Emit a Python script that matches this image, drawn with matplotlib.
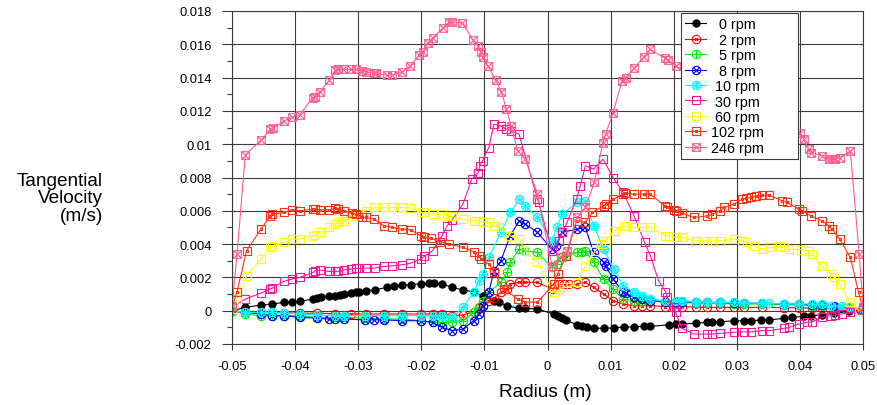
import matplotlib
matplotlib.use("Agg")
import matplotlib.pyplot as plt
from matplotlib.path import Path
from matplotlib.ticker import MultipleLocator, NullLocator, FuncFormatter

plt.rcParams['font.family'] = ['Liberation Sans', 'DejaVu Sans']

# Rotation speeds (rpm) and their tangential velocity profiles: (radius m, velocity m/s)
speeds = [0, 2, 5, 8, 10, 30, 60, 102, 246]

profile_0 = [
    (-0.0500, 0.0), (-0.0479, 0.0002), (-0.0454, 0.00034), (-0.0436, 0.0004), (-0.0418, 0.0005),
    (-0.0405, 0.0005), (-0.0393, 0.00056), (-0.0371, 0.0007), (-0.0366, 0.00075), (-0.0359, 0.0008),
    (-0.0347, 0.00086), (-0.0336, 0.0009), (-0.0329, 0.00095), (-0.0323, 0.001), (-0.0311, 0.00106),
    (-0.0304, 0.0011), (-0.0299, 0.00114), (-0.0288, 0.0012), (-0.0274, 0.00126), (-0.0254, 0.0014),
    (-0.0244, 0.00146), (-0.0230, 0.00154), (-0.0217, 0.00156), (-0.0201, 0.00162), (-0.0188, 0.00164),
    (-0.0180, 0.00164), (-0.0167, 0.0016), (-0.0151, 0.0014), (-0.0134, 0.00124), (-0.0117, 0.00114),
    (-0.0103, 0.0009), (-0.0085, 0.0006), (-0.0077, 0.0005), (-0.0064, 0.0003), (-0.0045, 0.00014),
    (-0.0035, 0.00014), (-0.0016, 0.0001), (0.0010, -0.0002), (0.0016, -0.0003), (0.0023, -0.00044),
    (0.0029, -0.00055), (0.0047, -0.00086), (0.0055, -0.00094), (0.0063, -0.001), (0.0073, -0.00104),
    (0.0089, -0.00106), (0.0105, -0.00103), (0.0121, -0.00098), (0.0137, -0.00097), (0.0153, -0.00094),
    (0.0163, -0.00094), (0.0192, -0.00085), (0.0203, -0.0008), (0.0213, -0.0008), (0.0235, -0.00075),
    (0.0253, -0.0007), (0.0261, -0.0007), (0.0274, -0.00067), (0.0295, -0.0006), (0.0311, -0.0006),
    (0.0322, -0.0006), (0.0338, -0.00056), (0.0351, -0.00055), (0.0375, -0.00046), (0.0388, -0.0004),
    (0.0406, -0.00034), (0.0417, -0.0003), (0.0435, -0.00025), (0.0454, -0.00016), (0.0478, -0.00004),
    (0.0496, 0.00004),
]

profile_2 = [
    (-0.0500, 0.0), (-0.0479, -0.0001), (-0.0454, -0.0001), (-0.0436, -0.0001), (-0.0418, -0.00012),
    (-0.0393, -0.00015), (-0.0365, -0.00015), (-0.0336, -0.00018), (-0.0311, -0.0002), (-0.0288, -0.0002),
    (-0.0259, -0.0002), (-0.0230, -0.0002), (-0.0201, -0.0002), (-0.0182, -0.0002), (-0.0167, -0.0002),
    (-0.0151, -0.0003), (-0.0134, -0.00026), (-0.0117, -0.00006), (-0.0109, 0.00014), (-0.0103, 0.0003),
    (-0.0093, 0.0006), (-0.0085, 0.00074), (-0.0074, 0.0011), (-0.0064, 0.0013), (-0.0059, 0.0016),
    (-0.0045, 0.0017), (-0.0035, 0.0017), (-0.0016, 0.0017), (0.0007, 0.0013), (0.0018, 0.0016),
    (0.0026, 0.0016), (0.0034, 0.0016), (0.0047, 0.0016), (0.0060, 0.0017), (0.0073, 0.0014),
    (0.0089, 0.001), (0.0104, 0.0006), (0.0120, 0.0004), (0.0137, 0.0003), (0.0150, 0.0003),
    (0.0163, 0.0003), (0.0187, 0.00025), (0.0203, 0.00025), (0.0213, 0.00025), (0.0235, 0.00022),
    (0.0253, 0.0002), (0.0274, 0.0002), (0.0295, 0.0002), (0.0311, 0.0002), (0.0340, 0.0002),
    (0.0375, 0.00018), (0.0398, 0.00018), (0.0419, 0.00015), (0.0435, 0.00015), (0.0454, 0.00012),
    (0.0480, 0.0001), (0.0499, 0.0),
]

profile_5 = [
    (-0.0500, 0.0), (-0.0479, -0.0002), (-0.0454, -0.0003), (-0.0436, -0.0003), (-0.0418, -0.0003),
    (-0.0393, -0.0003), (-0.0365, -0.0004), (-0.0336, -0.0004), (-0.0323, -0.0004), (-0.0290, -0.00045),
    (-0.0259, -0.0005), (-0.0230, -0.0005), (-0.0201, -0.0006), (-0.0182, -0.0007), (-0.0167, -0.0007),
    (-0.0151, -0.00066), (-0.0134, -0.0006), (-0.0117, -0.0001), (-0.0109, 0.0002), (-0.0103, 0.0006),
    (-0.0093, 0.0011), (-0.0074, 0.0017), (-0.0064, 0.0023), (-0.0059, 0.0029), (-0.0045, 0.0037),
    (-0.0035, 0.0036), (-0.0016, 0.0035), (0.0007, 0.0026), (0.0015, 0.0028), (0.0023, 0.0032),
    (0.0030, 0.0033), (0.0047, 0.0035), (0.0055, 0.0035), (0.0060, 0.0036), (0.0073, 0.0029),
    (0.0089, 0.0019), (0.0104, 0.0013), (0.0120, 0.0007), (0.0137, 0.0006), (0.0150, 0.0006),
    (0.0163, 0.0006), (0.0187, 0.0005), (0.0203, 0.0005), (0.0213, 0.0005), (0.0235, 0.00045),
    (0.0253, 0.00045), (0.0274, 0.00045), (0.0295, 0.0004), (0.0311, 0.0004), (0.0340, 0.0004),
    (0.0375, 0.00035), (0.0398, 0.00035), (0.0419, 0.0003), (0.0435, 0.0003), (0.0454, 0.00025),
    (0.0480, 0.00015), (0.0499, 0.0),
]

profile_8 = [
    (-0.0500, 0.0), (-0.0479, -0.0001), (-0.0454, -0.0002), (-0.0436, -0.0003), (-0.0418, -0.0003),
    (-0.0393, -0.0004), (-0.0365, -0.00045), (-0.0347, -0.0005), (-0.0336, -0.0005), (-0.0323, -0.0005),
    (-0.0290, -0.00055), (-0.0275, -0.00055), (-0.0259, -0.00055), (-0.0230, -0.0006), (-0.0201, -0.0006),
    (-0.0182, -0.0007), (-0.0167, -0.001), (-0.0151, -0.0012), (-0.0134, -0.0011), (-0.0117, -0.0006),
    (-0.0109, -0.0002), (-0.0103, 0.0003), (-0.0093, 0.0011), (-0.0085, 0.0024), (-0.0074, 0.003),
    (-0.0059, 0.0045), (-0.0045, 0.0054), (-0.0035, 0.0052), (-0.0016, 0.0047), (0.0007, 0.0037),
    (0.0013, 0.0039), (0.0023, 0.0047), (0.0047, 0.0049), (0.0060, 0.005), (0.0073, 0.0035),
    (0.0089, 0.0029), (0.0092, 0.0027), (0.0104, 0.0019), (0.0120, 0.0011), (0.0124, 0.00106),
    (0.0137, 0.0008), (0.0150, 0.0007), (0.0163, 0.0006), (0.0187, 0.00055), (0.0203, 0.00055),
    (0.0213, 0.00055), (0.0235, 0.0005), (0.0253, 0.0005), (0.0274, 0.0005), (0.0295, 0.00045),
    (0.0311, 0.00045), (0.0340, 0.00045), (0.0375, 0.0004), (0.0398, 0.0004), (0.0419, 0.00035),
    (0.0435, 0.00035), (0.0454, 0.0003), (0.0480, 0.0002), (0.0499, 0.0001),
]

profile_10 = [
    (-0.0500, 0.0), (-0.0479, -0.0001), (-0.0454, -0.0001), (-0.0436, -0.0001), (-0.0418, -0.00015),
    (-0.0393, -0.0002), (-0.0365, -0.00025), (-0.0336, -0.0003), (-0.0323, -0.0003), (-0.0290, -0.0003),
    (-0.0259, -0.0003), (-0.0230, -0.0003), (-0.0201, -0.0003), (-0.0182, -0.0003), (-0.0167, -0.0003),
    (-0.0151, -0.0004), (-0.0134, 0.0002), (-0.0117, 0.0011), (-0.0109, 0.0018), (-0.0103, 0.0022),
    (-0.0093, 0.0032), (-0.0074, 0.0047), (-0.0059, 0.0059), (-0.0045, 0.0067), (-0.0035, 0.0063),
    (-0.0016, 0.0056), (0.0007, 0.0042), (0.0015, 0.005), (0.0023, 0.0058), (0.0047, 0.0065),
    (0.0060, 0.0066), (0.0073, 0.0051), (0.0089, 0.0037), (0.0105, 0.0025), (0.0120, 0.0015),
    (0.0137, 0.0011), (0.0150, 0.0009), (0.0163, 0.0007), (0.0187, 0.0006), (0.0203, 0.0006),
    (0.0213, 0.0006), (0.0235, 0.00055), (0.0253, 0.0005), (0.0274, 0.0005), (0.0295, 0.0005),
    (0.0311, 0.00045), (0.0340, 0.00045), (0.0351, 0.00045), (0.0375, 0.0004), (0.0398, 0.0004),
    (0.0419, 0.0004), (0.0435, 0.0004), (0.0449, 0.0003), (0.0467, 0.0003), (0.0480, 0.0002),
    (0.0499, 0.0001),
]

profile_30 = [
    (-0.0500, 0.0002), (-0.0479, 0.0007), (-0.0454, 0.00106), (-0.0439, 0.0013), (-0.0436, 0.00136),
    (-0.0418, 0.00176), (-0.0405, 0.0019), (-0.0393, 0.002), (-0.0371, 0.0023), (-0.0368, 0.0024),
    (-0.0361, 0.00244), (-0.0347, 0.00236), (-0.0336, 0.00236), (-0.0332, 0.00236), (-0.0323, 0.00244),
    (-0.0311, 0.0025), (-0.0304, 0.00254), (-0.0299, 0.00254), (-0.0288, 0.00256), (-0.0274, 0.00256),
    (-0.0259, 0.00266), (-0.0246, 0.0027), (-0.0230, 0.00276), (-0.0218, 0.00284), (-0.0201, 0.0031),
    (-0.0195, 0.00326), (-0.0182, 0.0036), (-0.0167, 0.0045), (-0.0159, 0.0051), (-0.0151, 0.00546),
    (-0.0134, 0.0064), (-0.0120, 0.0079), (-0.0110, 0.0083), (-0.0107, 0.0087), (-0.0103, 0.009),
    (-0.0093, 0.0098), (-0.0085, 0.0112), (-0.0074, 0.0111), (-0.0065, 0.0109), (-0.0058, 0.0108),
    (-0.0045, 0.0106), (-0.0016, 0.0067), (-0.0014, 0.0065), (0.0007, 0.0036), (0.0018, 0.0042),
    (0.0023, 0.0047), (0.0031, 0.0053), (0.0046, 0.0067), (0.0052, 0.0075), (0.0060, 0.0087),
    (0.0073, 0.0085), (0.0088, 0.0091), (0.0104, 0.008), (0.0120, 0.0071), (0.0137, 0.0057),
    (0.0154, 0.0041), (0.0163, 0.0033), (0.0176, 0.0018), (0.0187, 0.00114), (0.0190, 0.0008),
    (0.0200, 0.0002), (0.0203, -0.0001), (0.0213, -0.00106), (0.0232, -0.0014), (0.0253, -0.0014),
    (0.0261, -0.0014), (0.0274, -0.00136), (0.0295, -0.0013), (0.0311, -0.00127), (0.0322, -0.00127),
    (0.0340, -0.0012), (0.0351, -0.0012), (0.0375, -0.00106), (0.0383, -0.001), (0.0398, -0.0008),
    (0.0411, -0.0007), (0.0419, -0.00067), (0.0435, -0.0004), (0.0449, -0.0003), (0.0456, -0.00026),
    (0.0467, -0.0002), (0.0480, -0.0001), (0.0499, 0.0),
]

profile_60 = [
    (-0.0500, 0.0001), (-0.0492, 0.0007), (-0.0477, 0.0021), (-0.0454, 0.0031), (-0.0439, 0.0038),
    (-0.0436, 0.00386), (-0.0418, 0.0041), (-0.0405, 0.0043), (-0.0393, 0.0043), (-0.0371, 0.0045),
    (-0.0368, 0.00456), (-0.0361, 0.0047), (-0.0347, 0.005), (-0.0336, 0.0052), (-0.0332, 0.0053),
    (-0.0323, 0.0054), (-0.0311, 0.0057), (-0.0304, 0.0058), (-0.0288, 0.006), (-0.0275, 0.0062),
    (-0.0259, 0.0062), (-0.0246, 0.0062), (-0.0230, 0.0062), (-0.0218, 0.00618), (-0.0201, 0.0059),
    (-0.0195, 0.0059), (-0.0182, 0.0058), (-0.0167, 0.0058), (-0.0159, 0.0057), (-0.0151, 0.00566),
    (-0.0134, 0.0055), (-0.0117, 0.0054), (-0.0109, 0.0054), (-0.0103, 0.00534), (-0.0093, 0.0053),
    (-0.0085, 0.0051), (-0.0074, 0.005), (-0.0059, 0.0045), (-0.0045, 0.0043), (-0.0035, 0.0036),
    (-0.0016, 0.0029), (0.0005, 0.0014), (0.0010, 0.0011), (0.0018, 0.0013), (0.0025, 0.0014),
    (0.0031, 0.0014), (0.0047, 0.0017), (0.0060, 0.0027), (0.0076, 0.0036), (0.0084, 0.004),
    (0.0092, 0.0042), (0.0105, 0.0048), (0.0121, 0.0051), (0.0124, 0.0051), (0.0137, 0.005),
    (0.0150, 0.005), (0.0163, 0.005), (0.0187, 0.0045), (0.0192, 0.0045), (0.0203, 0.0044),
    (0.0213, 0.0044), (0.0235, 0.0042), (0.0253, 0.0042), (0.0261, 0.0042), (0.0274, 0.0042),
    (0.0295, 0.0043), (0.0309, 0.0042), (0.0316, 0.0041), (0.0327, 0.0039), (0.0340, 0.0037),
    (0.0353, 0.0038), (0.0369, 0.0039), (0.0375, 0.0038), (0.0383, 0.0037), (0.0401, 0.00366),
    (0.0414, 0.0036), (0.0419, 0.0034), (0.0435, 0.0027), (0.0449, 0.0022), (0.0454, 0.002),
    (0.0463, 0.0016), (0.0480, 0.0005), (0.0493, 0.0),
]

profile_102 = [
    (-0.0500, 0.0002), (-0.0492, 0.00114), (-0.0477, 0.0036), (-0.0454, 0.0049), (-0.0439, 0.0057),
    (-0.0436, 0.0058), (-0.0418, 0.0059), (-0.0405, 0.00606), (-0.0393, 0.006), (-0.0371, 0.0061),
    (-0.0368, 0.0061), (-0.0361, 0.00606), (-0.0347, 0.00606), (-0.0336, 0.00614), (-0.0332, 0.0061),
    (-0.0323, 0.006), (-0.0310, 0.00584), (-0.0304, 0.0058), (-0.0294, 0.00564), (-0.0288, 0.0056),
    (-0.0275, 0.0055), (-0.0259, 0.0051), (-0.0246, 0.005), (-0.0230, 0.0049), (-0.0217, 0.00486),
    (-0.0201, 0.0045), (-0.0196, 0.0044), (-0.0185, 0.00434), (-0.0170, 0.00414), (-0.0156, 0.004),
    (-0.0134, 0.0038), (-0.0117, 0.00355), (-0.0109, 0.0033), (-0.0106, 0.0031), (-0.0093, 0.0028),
    (-0.0085, 0.0023), (-0.0069, 0.0013), (-0.0047, 0.0007), (-0.0035, 0.00053), (-0.0016, 0.0005),
    (0.0010, 0.0016), (0.0016, 0.0022), (0.0030, 0.0033), (0.0046, 0.0054), (0.0060, 0.0053),
    (0.0071, 0.0059), (0.0089, 0.0063), (0.0092, 0.0064), (0.0104, 0.0067), (0.0120, 0.007),
    (0.0123, 0.00706), (0.0137, 0.007), (0.0153, 0.007), (0.0163, 0.007), (0.0187, 0.00627),
    (0.0190, 0.0062), (0.0200, 0.00606), (0.0203, 0.006), (0.0213, 0.00586), (0.0232, 0.0056),
    (0.0253, 0.0057), (0.0261, 0.0058), (0.0274, 0.006), (0.0280, 0.0062), (0.0295, 0.0064),
    (0.0309, 0.0067), (0.0314, 0.00675), (0.0322, 0.0068), (0.0330, 0.00686), (0.0340, 0.00694),
    (0.0351, 0.00694), (0.0372, 0.0066), (0.0380, 0.0065), (0.0398, 0.0061), (0.0404, 0.006),
    (0.0417, 0.0057), (0.0435, 0.0054), (0.0446, 0.0051), (0.0451, 0.0049), (0.0463, 0.0043),
    (0.0480, 0.0032), (0.0493, 0.0011), (0.0500, 0.0001),
]

profile_246 = [
    (-0.0500, 0.0003), (-0.0492, 0.0034), (-0.0479, 0.00936), (-0.0454, 0.01024), (-0.0439, 0.0109),
    (-0.0435, 0.01096), (-0.0417, 0.0114), (-0.0405, 0.01163), (-0.0393, 0.01174), (-0.0372, 0.0128),
    (-0.0368, 0.01286), (-0.0361, 0.01313), (-0.0346, 0.01383), (-0.0336, 0.01443), (-0.0332, 0.01449),
    (-0.0324, 0.01449), (-0.0311, 0.01449), (-0.0304, 0.01449), (-0.0294, 0.01439), (-0.0288, 0.01435),
    (-0.0275, 0.01425), (-0.0271, 0.01425), (-0.0255, 0.01415), (-0.0246, 0.01415), (-0.0230, 0.01435),
    (-0.0218, 0.01469), (-0.0203, 0.01535), (-0.0197, 0.01555), (-0.0190, 0.01605), (-0.0182, 0.01639),
    (-0.0165, 0.017), (-0.0156, 0.01735), (-0.0151, 0.01735), (-0.0135, 0.01727), (-0.0118, 0.01627),
    (-0.0110, 0.01591), (-0.0106, 0.01551), (-0.0103, 0.01521), (-0.0094, 0.01467), (-0.0082, 0.01385),
    (-0.0073, 0.01313), (-0.0065, 0.01211), (-0.0058, 0.0111), (-0.0047, 0.0096), (-0.0035, 0.0091),
    (-0.0016, 0.007), (0.0007, 0.0027), (0.0021, 0.0032), (0.0031, 0.0036), (0.0047, 0.0056),
    (0.0060, 0.0062), (0.0074, 0.0077), (0.0088, 0.0101), (0.0092, 0.0106), (0.0104, 0.0119),
    (0.0118, 0.0138), (0.0124, 0.014), (0.0137, 0.01455), (0.0153, 0.01525), (0.0162, 0.0157),
    (0.0187, 0.01515), (0.0191, 0.01507), (0.0203, 0.0147), (0.0400, 0.0107), (0.0406, 0.0103),
    (0.0414, 0.0097), (0.0418, 0.0095), (0.0435, 0.0093), (0.0446, 0.0091), (0.0451, 0.0091),
    (0.0456, 0.0091), (0.0463, 0.00917), (0.0480, 0.0096), (0.0494, 0.0034), (0.0500, 0.0002),
]

profiles = [profile_0, profile_2, profile_5, profile_8, profile_10,
            profile_30, profile_60, profile_102, profile_246]

x_ticks = [-0.05, -0.04, -0.03, -0.02, -0.01, 0, 0.01, 0.02, 0.03, 0.04, 0.05]
y_ticks = [-0.002, 0, 0.002, 0.004, 0.006, 0.008, 0.01, 0.012, 0.014, 0.016, 0.018]


# ---- composite marker shapes -------------------------------------------
def seg(p0, p1):
    return Path([p0, p1], [Path.MOVETO, Path.LINETO])


def square_path(h):
    return Path([(-h, -h), (h, -h), (h, h), (-h, h), (-h, -h)],
                [Path.MOVETO, Path.LINETO, Path.LINETO, Path.LINETO, Path.CLOSEPOLY])


d = 0.7
circle = Path.unit_circle()
circle_small_x = Path.make_compound_path(circle, seg((-0.35, -0.35), (0.35, 0.35)),
                                         seg((-0.35, 0.35), (0.35, -0.35)))
circle_plus = Path.make_compound_path(circle, seg((-1, 0), (1, 0)), seg((0, -1), (0, 1)))
circle_x = Path.make_compound_path(circle, seg((-d, -d), (d, d)), seg((-d, d), (d, -d)))
circle_star = Path.make_compound_path(circle, seg((-1, 0), (1, 0)), seg((0, -1), (0, 1)),
                                      seg((-d, -d), (d, d)), seg((-d, d), (d, -d)))
square = square_path(1.0)
square_dot = Path.make_compound_path(square, square_path(0.25))
square_x = Path.make_compound_path(square, seg((-1, -1), (1, 1)), seg((-1, 1), (1, -1)))

styles = [
    dict(color='#000000', marker='o', mfc='#000000', ms=5.2),
    dict(color='#FF0000', marker=circle_small_x, mfc='none', ms=6),
    dict(color='#00EE00', marker=circle_plus, mfc='none', ms=6),
    dict(color='#0000FF', marker=circle_x, mfc='none', ms=6),
    dict(color='#00FFFF', marker=circle_star, mfc='none', ms=6),
    dict(color='#FF14A0', marker=square, mfc='none', ms=5.5),
    dict(color='#FFFF00', marker=square, mfc='none', ms=5.5),
    dict(color='#FF3311', marker=square_dot, mfc='none', ms=5.5),
    dict(color='#FF5C8D', marker=square_x, mfc='none', ms=5.5),
]

fig = plt.figure(figsize=(8.77, 4.06), dpi=100)
ax = fig.add_axes([232 / 877, 61 / 406, 631 / 877, 333 / 406])

for rpm, prof, st in zip(speeds, profiles, styles):
    r = [p[0] for p in prof]
    v = [p[1] for p in prof]
    pad = ' ' * (3 - len(str(rpm)))
    ax.plot(r, v, color=st['color'], lw=0.8, marker=st['marker'], ms=st['ms'],
            mfc=st['mfc'], mec=st['color'], mew=0.8, label=f"{pad}{rpm} rpm")

ax.set_xlim(-0.05, 0.05)
ax.set_ylim(-0.002, 0.018)
ax.set_xticks(x_ticks)
ax.set_yticks(y_ticks)
ax.yaxis.set_minor_locator(MultipleLocator(0.001))
ax.xaxis.set_minor_locator(NullLocator())
fmt = FuncFormatter(lambda v, pos: '%g' % round(v, 6))
ax.xaxis.set_major_formatter(fmt)
ax.yaxis.set_major_formatter(fmt)

ax.set_axisbelow(True)
ax.grid(True, which='major', color='#3c3c3c', lw=0.8)
for sp in ax.spines.values():
    sp.set_color('#3c3c3c')
    sp.set_linewidth(0.8)

ax.tick_params(axis='y', which='major', direction='out', length=7.2, width=0.8,
               pad=7.5, labelsize=9.3, colors='#3c3c3c', labelcolor='black')
ax.tick_params(axis='y', which='minor', direction='out', length=3.6, width=0.8,
               colors='#3c3c3c')
ax.tick_params(axis='x', which='major', direction='out', length=4, width=0.8,
               pad=7.5, labelsize=9.3, colors='#3c3c3c', labelcolor='black')

leg = ax.legend(loc='upper left', bbox_to_anchor=(0.7116, 0.571, 0.1855, 0.423),
                mode='expand', borderaxespad=0, fancybox=False, framealpha=1,
                edgecolor='#3c3c3c', fontsize=10.4, handlelength=1.45,
                handletextpad=0.3, labelspacing=0.1, borderpad=0.3, numpoints=1)
leg.get_frame().set_linewidth(0.8)

fig.text(103 / 877, 1 - 199 / 406, "Tangential\nVelocity\n(m/s)", ha='right',
         va='center', fontsize=13.7, linespacing=1.05)
fig.text(545 / 877, 1 - 393 / 406, "Radius (m)", ha='center', va='center',
         fontsize=13.7)

fig.savefig("out.png", dpi=100)
